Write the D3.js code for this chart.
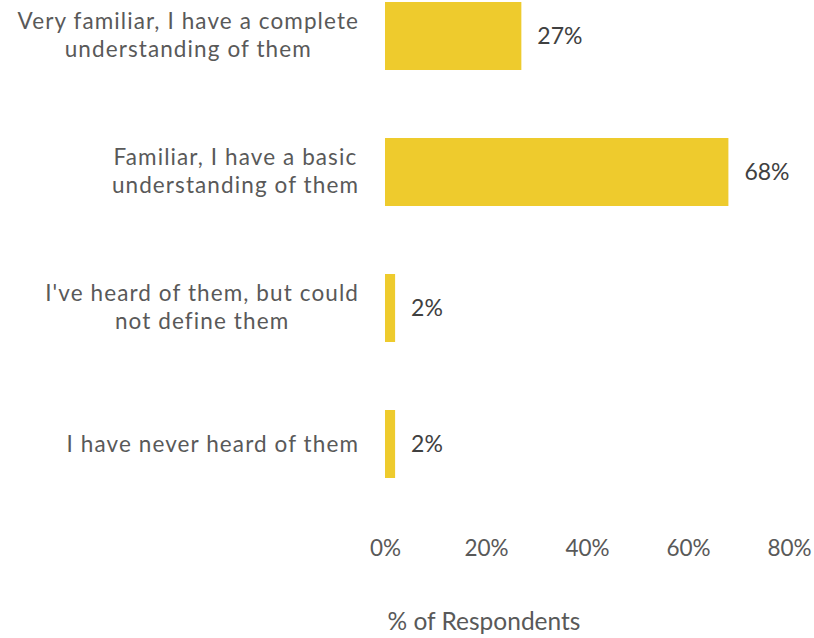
<!DOCTYPE html>
<html><head><meta charset="utf-8">
<script src="https://cdn.jsdelivr.net/npm/d3@7"></script>
<style>body{margin:0;background:#fff}svg{display:block}</style>
</head><body>
<script>
const categories = [
  ["Very familiar, I have a complete", "understanding of them"],
  ["Familiar, I have a basic", "understanding of them"],
  ["I've heard of them, but could", "not define them"],
  ["I have never heard of them"]
];
const values = [27, 68, 2, 2];
const valueLabels = ["27%", "68%", "2%", "2%"];
const ticks = [0, 20, 40, 60, 80];
const axisTitle = "% of Respondents";

const W = 814, H = 638;
const svg = d3.select("body").append("svg").attr("width", W).attr("height", H);
const font = "Lato, 'Open Sans', sans-serif";

const x = d3.scaleLinear().domain([0, 80]).range([385, 789]);
const y = d3.scaleBand().domain(d3.range(categories.length)).range([-32, 512]).paddingInner(0.5).paddingOuter(0.25);

svg.selectAll("rect.bar").data(values).join("rect")
  .attr("class", "bar")
  .attr("x", x(0))
  .attr("y", (d, i) => y(i))
  .attr("width", d => x(d) - x(0))
  .attr("height", y.bandwidth())
  .attr("fill", "#EECB2D");

svg.selectAll("text.val").data(values).join("text")
  .attr("class", "val")
  .attr("x", d => x(d) + 16)
  .attr("y", (d, i) => y(i) + y.bandwidth() / 2)
  .attr("dy", "0.35em")
  .attr("font-family", font).attr("font-size", 23)
  .attr("fill", "#404040")
  .text((d, i) => valueLabels[i]);

const lh = 27.5, right = 359;
svg.selectAll("g.cat").data(categories).join("g")
  .attr("class", "cat")
  .each(function(lines, i) {
    const cy = y(i) + y.bandwidth() / 2;
    const start = cy - (lines.length - 1) * lh / 2;
    const ts = d3.select(this).selectAll("text").data(lines).join("text")
      .attr("text-anchor", "middle")
      .attr("font-family", font).attr("font-size", 22.5)
      .attr("letter-spacing", 1.1)
      .attr("fill", "#595959")
      .attr("y", (d, j) => start + j * lh - (lines.length > 1 ? 1 : 0))
      .attr("dy", "0.35em")
      .text(d => d);
    let maxW = 0;
    ts.each(function() { maxW = Math.max(maxW, this.getComputedTextLength()); });
    ts.attr("x", right - maxW / 2);
  });

const axis = d3.axisBottom(x).tickValues(ticks).tickFormat(d => d + "%").tickSize(0).tickPadding(0);
const ax = svg.append("g").attr("transform", "translate(0,540)").call(axis);
ax.select(".domain").remove();
ax.selectAll("text").attr("font-family", font).attr("font-size", 22.5).attr("fill", "#595959").attr("dy", "0.71em");

svg.append("text")
  .attr("x", 484).attr("y", 630)
  .attr("text-anchor", "middle")
  .attr("font-family", font).attr("font-size", 24.5)
  .attr("fill", "#595959")
  .text(axisTitle);
</script>
</body></html>
